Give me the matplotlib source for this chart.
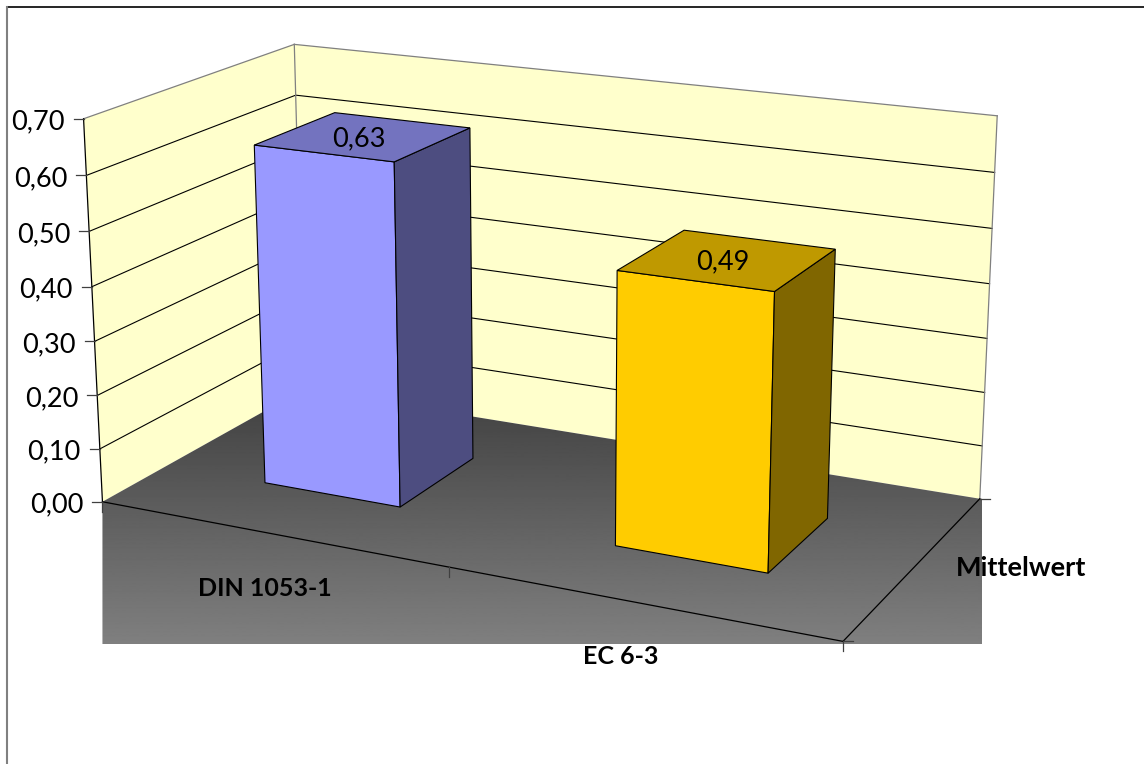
import numpy as np
import matplotlib
matplotlib.use("Agg")
import matplotlib.pyplot as plt
from matplotlib.patches import Polygon

categories = ["DIN 1053-1", "EC 6-3"]
series_name = "Mittelwert"
values = [0.63, 0.49]
value_ticks = [0.0, 0.1, 0.2, 0.3, 0.4, 0.5, 0.6, 0.7]
value_labels = ["0,00", "0,10", "0,20", "0,30", "0,40", "0,50", "0,60", "0,70"]
bar_labels = ["0,63", "0,49"]
front_colors = ["#9999FF", "#FFCC00"]
top_colors = ["#7373BF", "#BF9900"]
side_colors = ["#4D4D80", "#806600"]

plt.rcParams["font.family"] = ["Lato", "DejaVu Sans"]

# camera: box corners (x along categories, d into the page, v value) -> pixels
box_corners = [(0, 0, 0.0, 103, 501), (0, 0, 0.7, 83, 119),
               (1, 0, 0.0, 843, 642), (1, 1, 0.0, 980, 498),
               (1, 1, 0.7, 997, 116), (0, 1, 0.0, 303, 390),
               (0, 1, 0.7, 295, 44)]


def fit_camera(corners):
    rows = []
    for x, d, v, px, py in corners:
        p = [x, d, v, 1]
        rows.append(p + [0, 0, 0, 0] + [-px * c for c in p])
        rows.append([0, 0, 0, 0] + p + [-py * c for c in p])
    return np.linalg.svd(np.array(rows, float))[2][-1].reshape(3, 4)


cam = fit_camera(box_corners)


def project(x, d, v):
    q = cam @ np.array([x, d, v, 1.0])
    return q[0] / q[2], q[1] / q[2]


def face(points):
    return [project(*p) for p in points]


fig = plt.figure(figsize=(11.44, 7.64), dpi=100)
ax = fig.add_axes([0, 0, 1, 1])

# floor with the grey gradient, also running below the front edge
fx0, fy0 = project(0, 0, 0)
fx1, fy1 = project(1, 1, 0)
floor_outline = [project(0, 1, 0), (fx1, fy1), (982, fy1), (982, 644), (fx0, 644), (fx0, fy0)]
grad = np.linspace(0.25, 0.5, 256).reshape(-1, 1)
img = ax.imshow(grad, cmap="gray", vmin=0, vmax=1, extent=(fx0, 982, 644, 390), aspect="auto", zorder=2)
clip = Polygon(floor_outline, closed=True, transform=ax.transData, fc="none", ec="none")
ax.add_patch(clip)
img.set_clip_path(clip)

# walls
wall = "#FFFFCC"
ax.add_patch(Polygon(face([(0, 0, 0), (0, 1, 0), (0, 1, .7), (0, 0, .7)]), fc=wall, ec="none", zorder=1))
ax.add_patch(Polygon(face([(0, 1, 0), (1, 1, 0), (1, 1, .7), (0, 1, .7)]), fc=wall, ec="none", zorder=1))

# gridlines on both walls
for v in value_ticks[1:-1]:
    xs, ys = zip(*face([(0, 0, v), (0, 1, v), (1, 1, v)]))
    ax.plot(xs, ys, color="k", lw=0.8, zorder=1.5)

# wall borders
for a, b in [((0, 0, .7), (0, 1, .7)), ((0, 1, .7), (1, 1, .7)), ((0, 1, 0), (0, 1, .7)), ((1, 1, 0), (1, 1, .7))]:
    xs, ys = zip(*face([a, b]))
    ax.plot(xs, ys, color="#808080", lw=0.9, zorder=1.6)

# axis lines
for a, b in [((0, 0, 0), (0, 0, .7)), ((0, 0, 0), (1, 0, 0)), ((1, 0, 0), (1, 1, 0))]:
    xs, ys = zip(*face([a, b]))
    ax.plot(xs, ys, color="k", lw=0.9, zorder=3)

# value ticks and their labels
for v, lab in zip(value_ticks, value_labels):
    tx, ty = project(0, 0, v)
    ax.plot([tx - 10, tx], [ty, ty], color="#404040", lw=0.9, zorder=3)
    ax.text(tx - 19, ty + 3, lab, ha="right", va="center", fontsize=19.5, zorder=5)

# category ticks along the front, depth ticks to the right
for i in range(len(categories) + 1):
    tx, ty = project(i / len(categories), 0, 0)
    ax.plot([tx, tx], [ty, ty + 10], color="#404040", lw=0.9, zorder=3)
for x, d in [(1, 0), (1, 1)]:
    tx, ty = project(x, d, 0)
    ax.plot([tx, tx + 10], [ty, ty], color="#404040", lw=0.9, zorder=3)

# bars, one slot per category
n = len(categories)
d0, d1 = 0.3, 0.7
for i, val in enumerate(values):
    x0, x1 = (i + 0.3) / n, (i + 0.7) / n
    ax.add_patch(Polygon(face([(x0, d0, 0), (x1, d0, 0), (x1, d0, val), (x0, d0, val)]),
                         fc=front_colors[i], ec="k", lw=0.8, zorder=4))
    ax.add_patch(Polygon(face([(x1, d0, 0), (x1, d1, 0), (x1, d1, val), (x1, d0, val)]),
                         fc=side_colors[i], ec="k", lw=0.8, zorder=4))
    ax.add_patch(Polygon(face([(x0, d0, val), (x1, d0, val), (x1, d1, val), (x0, d1, val)]),
                         fc=top_colors[i], ec="k", lw=0.8, zorder=4))
    lx, ly = project((x0 + x1) / 2, (d0 + d1) / 2, val)
    ax.text(lx - 5, ly + 2, bar_labels[i], ha="center", va="center", fontsize=19.5, zorder=5)

# axis titles
ax.text(264.5, 588.5, categories[0], ha="center", va="center", fontsize=18, fontweight="bold", zorder=5)
ax.text(621, 657, categories[1], ha="center", va="center", fontsize=18, fontweight="bold", zorder=5)
ax.text(1021, 567.5, series_name, ha="center", va="center", fontsize=19.5, fontweight="bold", zorder=5)

# chart frame
ax.plot([6.5, 1144], [6.5, 6.5], color="k", lw=1.2, zorder=6)
ax.plot([6.5, 6.5], [6.5, 764], color="#808080", lw=1.5, zorder=6)

ax.set_xlim(0, 1144)
ax.set_ylim(764, 0)
ax.axis("off")
fig.savefig("out.png", dpi=100)
